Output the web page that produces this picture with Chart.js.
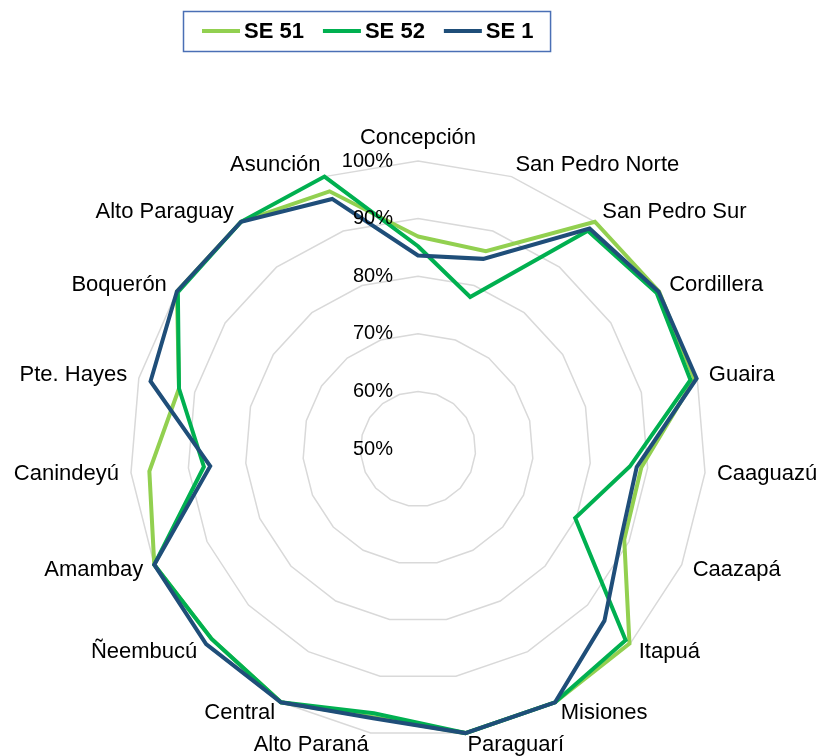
<!DOCTYPE html>
<html>
<head>
<meta charset="utf-8">
<script src="https://cdn.jsdelivr.net/npm/chart.js@4"></script>
<style>
  body { margin: 0; background: #fff; }
  canvas { display: block; }
</style>
</head>
<body>
<canvas id="myChart" width="821" height="756"></canvas>
<script>
const departamentos = [
  "Concepción", "San Pedro Norte", "San Pedro Sur", "Cordillera", "Guaira",
  "Caaguazú", "Caazapá", "Itapuá", "Misiones", "Paraguarí", "Alto Paraná",
  "Central", "Ñeembucú", "Amambay", "Canindeyú", "Pte. Hayes", "Boquerón",
  "Alto Paraguay", "Asunción"
];

const se51 = [86.9, 86.3, 100, 100, 99.5, 88.9, 89.1, 99.9, 100, 100, 97.2, 100, 98.7, 100, 96.8, 92.8, 100, 100, 97.3];
const se52 = [85.2, 77.9, 98.0, 99.5, 98.8, 86.9, 79.8, 99.0, 100, 100, 96.5, 100, 98.7, 100, 87.3, 92.8, 99.8, 100, 100];
const se1 = [83.6, 84.9, 98.5, 99.9, 99.9, 88.1, 88.5, 94.0, 100, 100, 97.4, 100, 100, 100, 86.2, 97.9, 100, 100, 95.9];

const seriesNames = ["SE 51", "SE 52", "SE 1"];
const seriesColors = ["#92D050", "#00B050", "#1F4E79"];

const scaleMin = 50;
const scaleMax = 100;
const scaleStep = 10;

const labelFont = "22px 'Liberation Sans', Arial, sans-serif";
const tickFont = "20px 'Liberation Sans', Arial, sans-serif";
const legendFont = "bold 22px 'Liberation Sans', Arial, sans-serif";

// point labels, tick labels and the boxed legend, drawn off the radial scale
const radarExtras = {
  id: "radarExtras",
  afterDraw(chart) {
    const ctx = chart.ctx;
    const scale = chart.scales.r;
    ctx.save();
    ctx.fillStyle = "#000";

    // category labels
    ctx.font = labelFont;
    departamentos.forEach((name, i) => {
      const pos = scale.getPointPosition(i, scale.drawingArea + 12);
      const dx = pos.x - scale.xCenter;
      if (Math.abs(dx) < 1) {
        ctx.textAlign = "center";
        ctx.textBaseline = "alphabetic";
        ctx.fillText(name, pos.x, pos.y - 5);
      } else {
        ctx.textAlign = dx > 0 ? "left" : "right";
        ctx.textBaseline = "middle";
        ctx.fillText(name, pos.x, pos.y);
      }
    });

    // tick labels
    ctx.font = tickFont;
    ctx.textAlign = "right";
    ctx.textBaseline = "middle";
    scale.ticks.forEach((tick) => {
      const d = scale.getDistanceFromCenterForValue(tick.value);
      ctx.fillText(tick.value + "%", scale.xCenter - 25, scale.yCenter - d);
    });

    // legend
    ctx.font = legendFont;
    ctx.textAlign = "left";
    ctx.textBaseline = "middle";
    let x = 202;
    const y = 31;
    chart.data.datasets.forEach((ds) => {
      ctx.strokeStyle = ds.borderColor;
      ctx.lineWidth = 4;
      ctx.beginPath();
      ctx.moveTo(x, y);
      ctx.lineTo(x + 38, y);
      ctx.stroke();
      x += 42;
      ctx.fillText(ds.label, x, y + 1);
      x += ctx.measureText(ds.label).width + 19;
    });
    ctx.strokeStyle = "#4a6fb5";
    ctx.lineWidth = 1.5;
    ctx.strokeRect(183.5, 11.5, x - 2 - 183.5, 40);
    ctx.restore();
  }
};

function makeDataset(i, values) {
  return {
    label: seriesNames[i],
    data: values,
    borderColor: seriesColors[i],
    backgroundColor: seriesColors[i],
    borderWidth: 4,
    fill: false,
    pointRadius: 0,
    pointHoverRadius: 0,
    tension: 0,
    order: 3 - i,
  };
}

const ctx = document.getElementById("myChart").getContext("2d");
const myChart = new Chart(ctx, {
  type: "radar",
  data: {
    labels: departamentos,
    datasets: [makeDataset(0, se51), makeDataset(1, se52), makeDataset(2, se1)],
  },
  options: {
    responsive: false,
    animation: false,
    layout: {
      padding: { top: 161, bottom: 19, left: 130, right: 115 },
    },
    plugins: {
      legend: { display: false },
      tooltip: { enabled: false },
    },
    scales: {
      r: {
        min: scaleMin,
        max: scaleMax,
        ticks: { stepSize: scaleStep, display: false },
        grid: { color: "#d9d9d9", lineWidth: 1.5 },
        angleLines: { display: false },
        pointLabels: { display: false },
      },
    },
  },
  plugins: [radarExtras],
});
</script>
</body>
</html>
